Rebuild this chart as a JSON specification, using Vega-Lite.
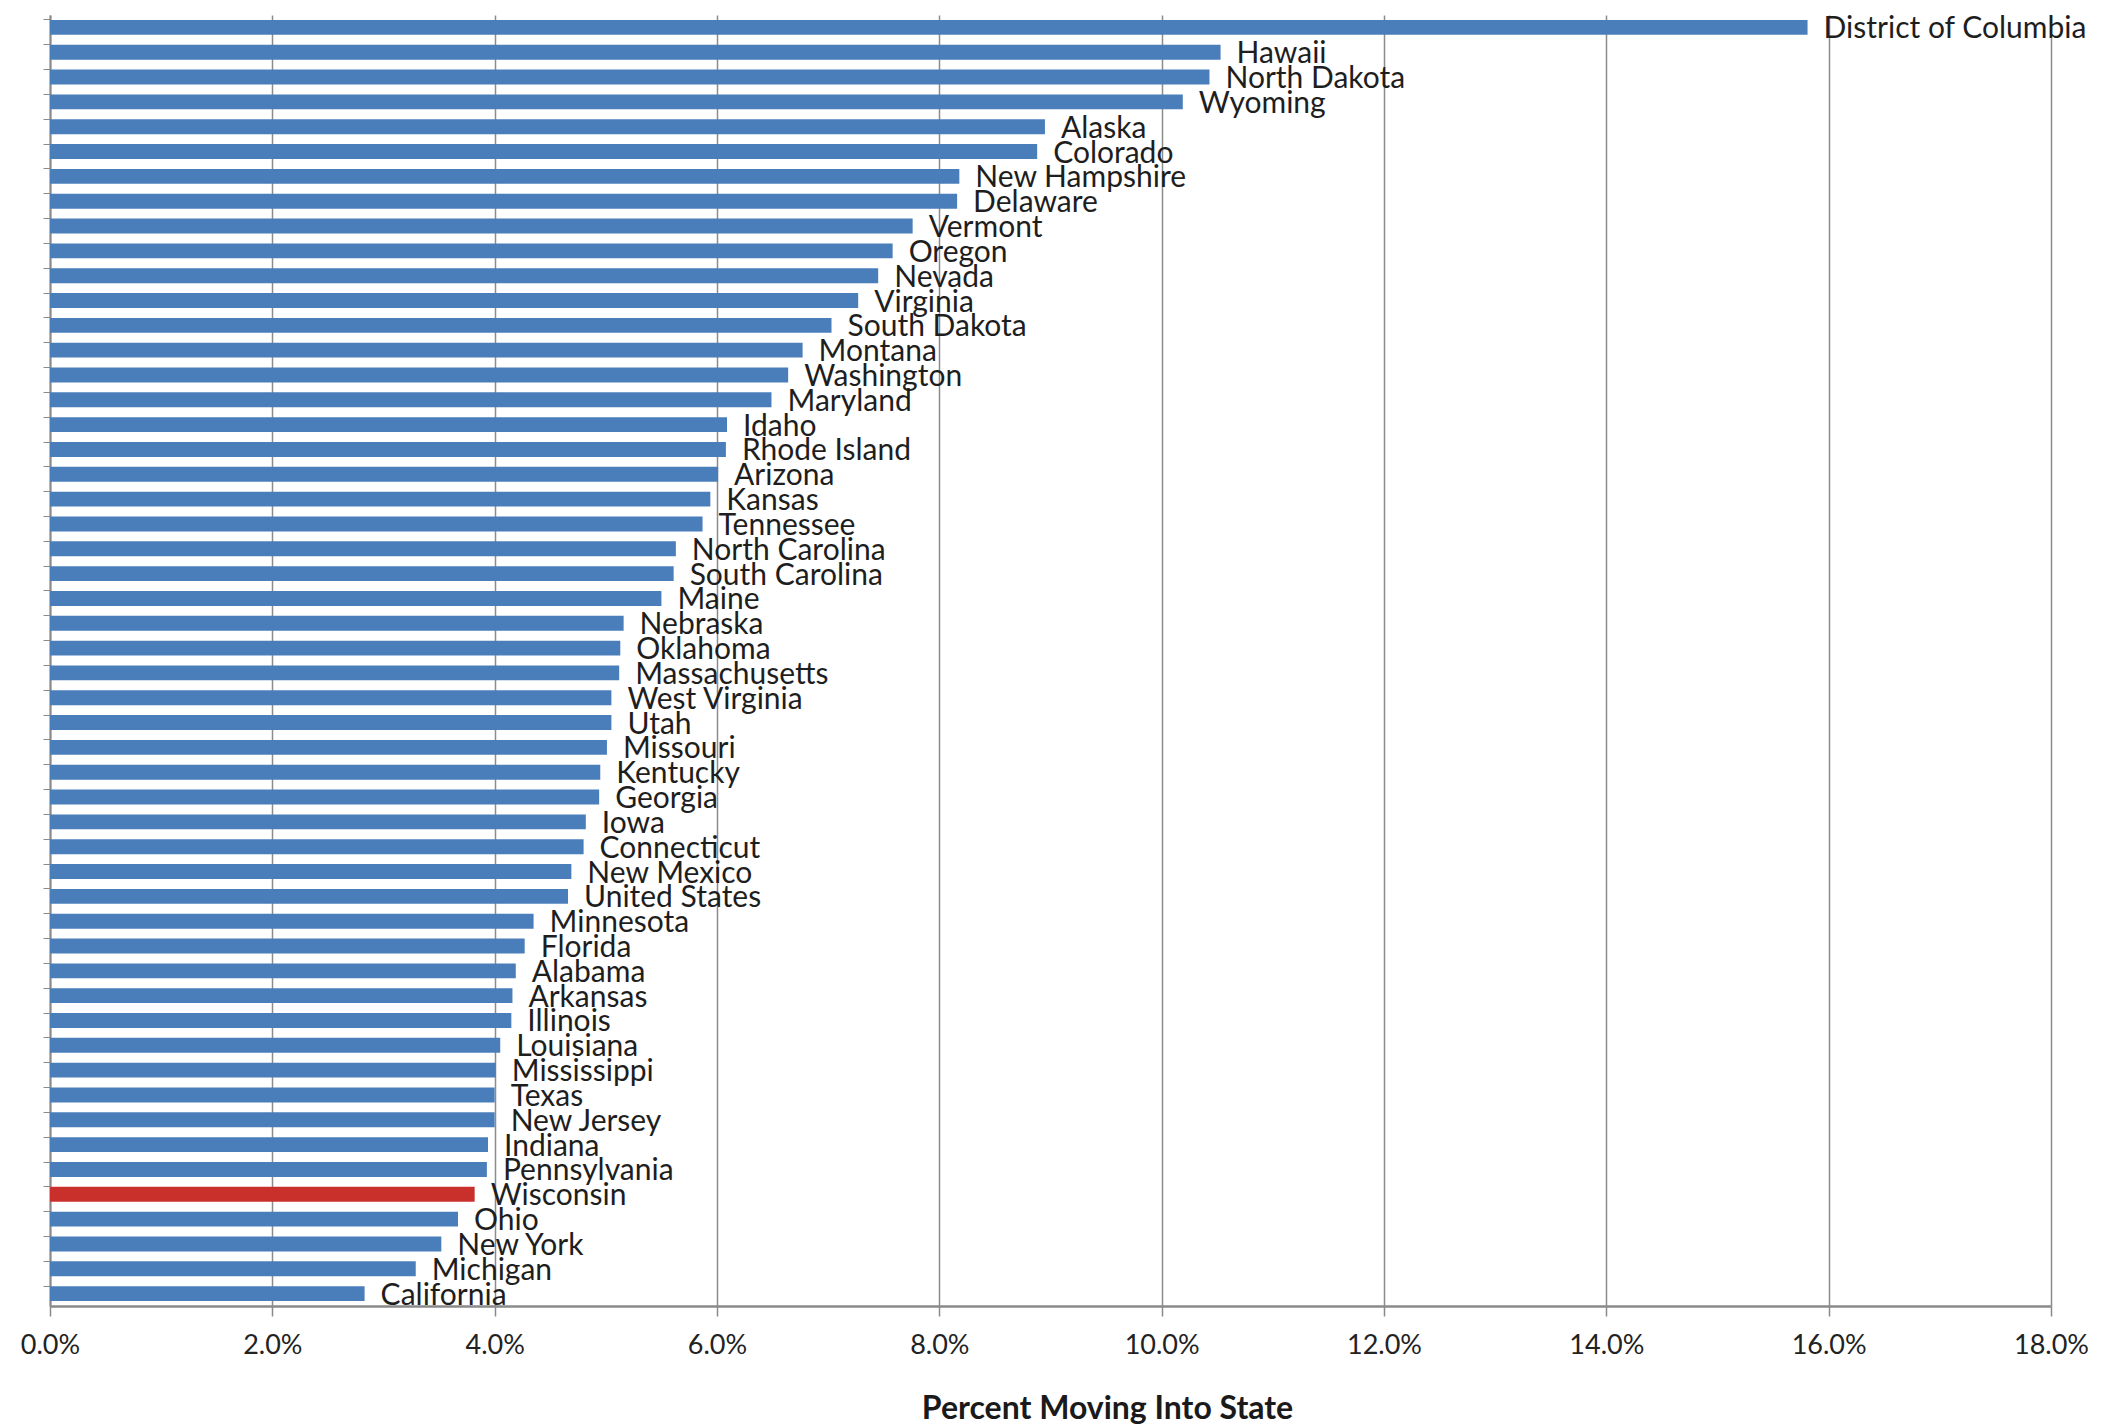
{
  "$schema": "https://vega.github.io/schema/vega-lite/v6.json",
  "width": 2001,
  "height": 1291,
  "autosize": {"type": "none"},
  "padding": {"left": 50, "top": 15, "right": 56, "bottom": 118},
  "background": "white",
  "config": {
    "view": {"stroke": null},
    "font": "Lato",
    "axis": {"labelFont": "Lato", "titleFont": "Lato"}
  },
  "data": {
    "values": [
      {"state": "District of Columbia", "pct": 15.81},
      {"state": "Hawaii", "pct": 10.53},
      {"state": "North Dakota", "pct": 10.43},
      {"state": "Wyoming", "pct": 10.19},
      {"state": "Alaska", "pct": 8.95},
      {"state": "Colorado", "pct": 8.88},
      {"state": "New Hampshire", "pct": 8.18},
      {"state": "Delaware", "pct": 8.16},
      {"state": "Vermont", "pct": 7.76},
      {"state": "Oregon", "pct": 7.58},
      {"state": "Nevada", "pct": 7.45},
      {"state": "Virginia", "pct": 7.27},
      {"state": "South Dakota", "pct": 7.03},
      {"state": "Montana", "pct": 6.77},
      {"state": "Washington", "pct": 6.64},
      {"state": "Maryland", "pct": 6.49},
      {"state": "Idaho", "pct": 6.09},
      {"state": "Rhode Island", "pct": 6.08},
      {"state": "Arizona", "pct": 6.01},
      {"state": "Kansas", "pct": 5.94},
      {"state": "Tennessee", "pct": 5.87},
      {"state": "North Carolina", "pct": 5.63},
      {"state": "South Carolina", "pct": 5.61},
      {"state": "Maine", "pct": 5.5},
      {"state": "Nebraska", "pct": 5.16},
      {"state": "Oklahoma", "pct": 5.13},
      {"state": "Massachusetts", "pct": 5.12},
      {"state": "West Virginia", "pct": 5.05},
      {"state": "Utah", "pct": 5.05},
      {"state": "Missouri", "pct": 5.01},
      {"state": "Kentucky", "pct": 4.95},
      {"state": "Georgia", "pct": 4.94},
      {"state": "Iowa", "pct": 4.82},
      {"state": "Connecticut", "pct": 4.8},
      {"state": "New Mexico", "pct": 4.69},
      {"state": "United States", "pct": 4.66},
      {"state": "Minnesota", "pct": 4.35},
      {"state": "Florida", "pct": 4.27},
      {"state": "Alabama", "pct": 4.19},
      {"state": "Arkansas", "pct": 4.16},
      {"state": "Illinois", "pct": 4.15},
      {"state": "Louisiana", "pct": 4.05},
      {"state": "Mississippi", "pct": 4.01},
      {"state": "Texas", "pct": 4.0},
      {"state": "New Jersey", "pct": 4.0},
      {"state": "Indiana", "pct": 3.94},
      {"state": "Pennsylvania", "pct": 3.93},
      {"state": "Wisconsin", "pct": 3.82},
      {"state": "Ohio", "pct": 3.67},
      {"state": "New York", "pct": 3.52},
      {"state": "Michigan", "pct": 3.29},
      {"state": "California", "pct": 2.83}
    ]
  },
  "encoding": {
    "y": {
      "field": "state",
      "type": "nominal",
      "sort": null,
      "scale": {"paddingInner": 0.4, "paddingOuter": 0.2},
      "axis": {
        "title": null,
        "labels": false,
        "bandPosition": 0,
        "ticks": true,
        "tickSize": 7,
        "tickColor": "#8a8a8a",
        "tickWidth": 1,
        "domainColor": "#8a8a8a",
        "domainWidth": 2,
        "grid": false
      }
    },
    "x": {
      "field": "pct",
      "type": "quantitative",
      "scale": {"domain": [0, 18], "nice": false, "zero": true},
      "axis": {
        "values": [0, 2, 4, 6, 8, 10, 12, 14, 16, 18],
        "labelExpr": "format(datum.value, '.1f') + '%'",
        "labelFlush": false,
        "labelOverlap": false,
        "title": "Percent Moving Into State",
        "titleFontSize": 32,
        "titleFontWeight": "bold",
        "titleColor": "#1a1a1a",
        "titleX": 1057,
        "titleY": 112,
        "titleBaseline": "alphabetic",
        "titleAnchor": "middle",
        "labelFontSize": 27,
        "labelColor": "#222222",
        "labelPadding": 16,
        "tickSize": 10,
        "tickColor": "#8a8a8a",
        "tickWidth": 1.5,
        "domainColor": "#8a8a8a",
        "domainWidth": 2.5,
        "grid": true,
        "gridColor": "#8c8c8c",
        "gridWidth": 1.5,
        "gridOpacity": 1
      }
    }
  },
  "layer": [
    {
      "mark": {"type": "bar"},
      "encoding": {
        "color": {
          "condition": {"test": "datum.state === 'Wisconsin'", "value": "#C9302C"},
          "value": "#4A7EBB"
        }
      }
    },
    {
      "mark": {
        "type": "text",
        "align": "left",
        "baseline": "middle",
        "dx": 16,
        "dy": 2,
        "fontSize": 30,
        "font": "Lato",
        "color": "#1e1e1e"
      },
      "encoding": {"text": {"field": "state"}}
    }
  ]
}
